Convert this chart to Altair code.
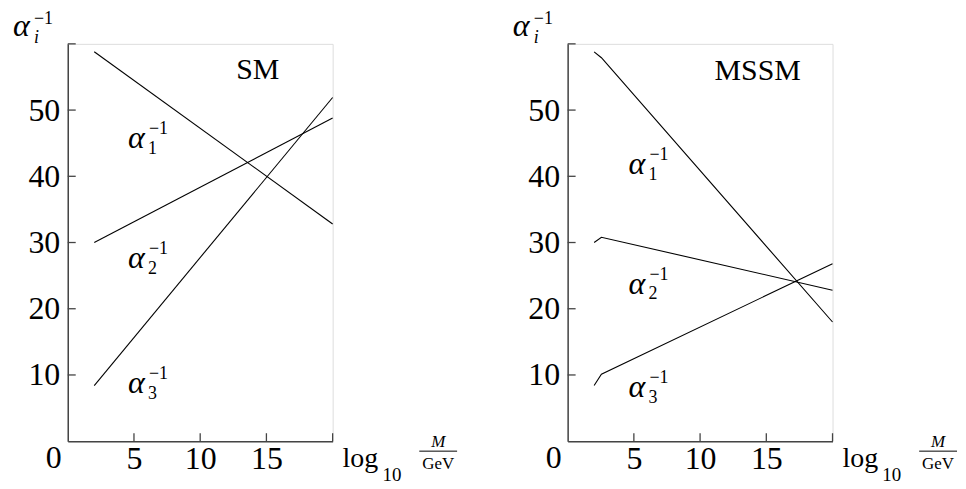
import altair as alt
import pandas as pd

# ---- data ----
sm_x = [2, 20]
sm_a1 = [58.8, 32.8]
sm_a2 = [30.0, 48.8]
sm_a3 = [8.4, 51.9]

mssm_x = [2, 2.55, 20]
mssm_a1 = [58.8, 57.9, 18.0]
mssm_a2 = [30.0, 30.8, 22.8]
mssm_a3 = [8.4, 10.1, 26.8]

y_tick_values = [10, 20, 30, 40, 50, 60]
y_label_values = [10, 20, 30, 40, 50]
x_tick_values = [5, 10, 15, 20]
x_label_values = [5, 10, 15]

label_subs = ["1", "2", "3"]
sm_label_x = [4.55, 4.55, 4.55]
sm_label_y = [44.3, 26.2, 7.3]
mssm_label_x = [4.6, 4.6, 4.6]
mssm_label_y = [40.4, 22.3, 6.7]

titles = ["SM", "MSSM"]
title_x = [14.35, 14.35]
title_y = [54.7, 54.5]

FONT = "Liberation Serif"
W, H = 266, 399
AXIS_COLOR = "#444444"

xscale = alt.Scale(domain=[0, 20], nice=False, zero=False)
yscale = alt.Scale(domain=[0, 60], nice=False, zero=False)


def panel(xs, series, lab_x, lab_y, title, tx, ty):
    rows = []
    for name, ys in zip(["a1", "a2", "a3"], series):
        for xv, yv in zip(xs, ys):
            rows.append({"series": name, "x": xv, "y": yv})
    df = pd.DataFrame(rows)

    lines = alt.Chart(df).mark_line(color="black", strokeWidth=1.1).encode(
        x=alt.X("x:Q", scale=xscale,
                axis=alt.Axis(values=x_label_values, ticks=False, grid=False, title=None,
                              labelFont=FONT, labelFontSize=32, labelPadding=2,
                              domainColor=AXIS_COLOR, domainWidth=1.5, labelColor="black")),
        y=alt.Y("y:Q", scale=yscale,
                axis=alt.Axis(values=y_label_values, ticks=False, grid=False, title=None,
                              labelFont=FONT, labelFontSize=32, labelPadding=8,
                              domainColor=AXIS_COLOR, domainWidth=1.5, labelColor="black")),
        detail="series:N",
    )

    ytk = alt.Chart(pd.DataFrame({"v": y_tick_values})).mark_rule(
        color=AXIS_COLOR, strokeWidth=1.3).encode(
        y=alt.Y("v:Q", scale=yscale), x=alt.value(0), x2=alt.value(8))
    xtk = alt.Chart(pd.DataFrame({"v": x_tick_values})).mark_rule(
        color=AXIS_COLOR, strokeWidth=1.3).encode(
        x=alt.X("v:Q", scale=xscale), y=alt.value(H), y2=alt.value(H - 8))

    ldf = pd.DataFrame({"x": lab_x, "y": lab_y, "sub": label_subs})
    base = alt.Chart(ldf).encode(x=alt.X("x:Q", scale=xscale), y=alt.Y("y:Q", scale=yscale))
    alpha = base.mark_text(text="α", font=FONT, fontStyle="italic", fontSize=32,
                           align="left", baseline="alphabetic", color="black")
    sub = base.mark_text(font=FONT, fontSize=18, dx=20, dy=6,
                         align="left", baseline="alphabetic", color="black").encode(text="sub:N")
    sup = base.mark_text(text="−1", font=FONT, fontSize=18, dx=21, dy=-14,
                         align="left", baseline="alphabetic", color="black")

    tdf = pd.DataFrame({"x": [tx], "y": [ty], "t": [title]})
    ttl = alt.Chart(tdf).mark_text(font=FONT, fontSize=30, align="center",
                                   baseline="alphabetic", color="black").encode(
        x=alt.X("x:Q", scale=xscale), y=alt.Y("y:Q", scale=yscale), text="t:N")

    zdf = pd.DataFrame({"x": [0], "y": [0], "t": ["0"]})
    zero = alt.Chart(zdf).mark_text(font=FONT, fontSize=32, align="center", baseline="top",
                                    dx=-14, dy=2, color="black").encode(
        x=alt.X("x:Q", scale=xscale), y=alt.Y("y:Q", scale=yscale), text="t:N")

    one = pd.DataFrame({"k": [0]})
    ya = alt.Chart(one).mark_text(text="α", font=FONT, fontStyle="italic", fontSize=32,
                                  align="left", baseline="alphabetic", color="black").encode(
        x=alt.value(-55), y=alt.value(-8))
    yi = alt.Chart(one).mark_text(text="i", font=FONT, fontStyle="italic", fontSize=18,
                                  align="left", baseline="alphabetic", color="black").encode(
        x=alt.value(-34), y=alt.value(-1))
    ys = alt.Chart(one).mark_text(text="−1", font=FONT, fontSize=18,
                                  align="left", baseline="alphabetic", color="black").encode(
        x=alt.value(-34), y=alt.value(-20))

    xl = alt.Chart(one).mark_text(text="log", font=FONT, fontSize=28,
                                  align="left", baseline="alphabetic", color="black").encode(
        x=alt.value(W + 10), y=alt.value(H + 26))
    x10 = alt.Chart(one).mark_text(text="10", font=FONT, fontSize=19,
                                   align="left", baseline="alphabetic", color="black").encode(
        x=alt.value(W + 50), y=alt.value(H + 40))
    xm = alt.Chart(one).mark_text(text="M", font=FONT, fontStyle="italic", fontSize=17,
                                  align="center", baseline="alphabetic", color="black").encode(
        x=alt.value(W + 106), y=alt.value(H + 6))
    xbar = alt.Chart(one).mark_rule(color="black", strokeWidth=1).encode(
        x=alt.value(W + 87), x2=alt.value(W + 125), y=alt.value(H + 10))
    xg = alt.Chart(one).mark_text(text="GeV", font=FONT, fontSize=17,
                                  align="center", baseline="alphabetic", color="black").encode(
        x=alt.value(W + 106), y=alt.value(H + 28))

    return alt.layer(lines, ytk, xtk, alpha, sub, sup, ttl, zero,
                     ya, yi, ys, xl, x10, xm, xbar, xg).properties(width=W, height=H)


left = panel(sm_x, [sm_a1, sm_a2, sm_a3], sm_label_x, sm_label_y, titles[0], title_x[0], title_y[0])
right = panel(mssm_x, [mssm_a1, mssm_a2, mssm_a3], mssm_label_x, mssm_label_y, titles[1], title_x[1], title_y[1])

chart = alt.hconcat(left, right, spacing=54).properties(
    padding={"left": 4, "top": 0, "right": 0, "bottom": 0}
).configure_view(stroke=None).configure(background="white")

chart.save("out.html", embed_options={"renderer": "svg", "actions": False})
